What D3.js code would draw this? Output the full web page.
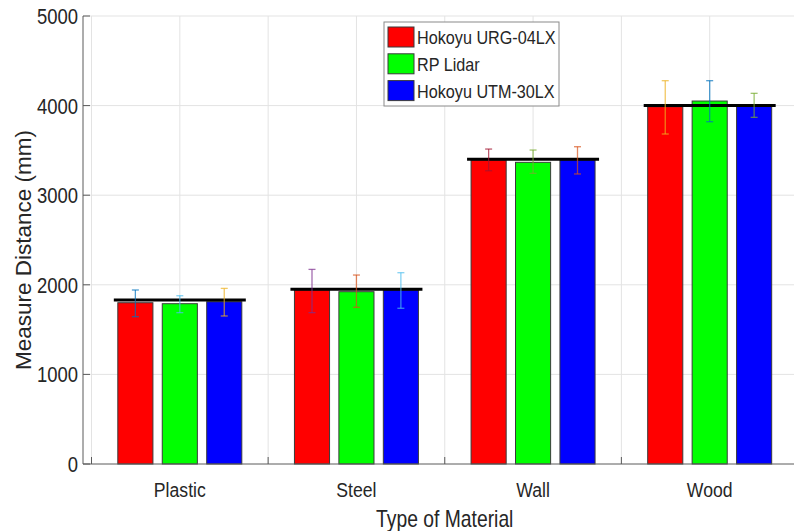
<!DOCTYPE html>
<html>
<head>
<meta charset="utf-8">
<script src="https://cdn.jsdelivr.net/npm/d3@7"></script>
<style>
body{margin:0;background:#fff}
text{font-family:Arial,"Liberation Sans",sans-serif;fill:#262626}
</style>
</head>
<body>
<svg id="chart" width="794" height="531"></svg>
<script>
// data
const materials = ['Plastic', 'Steel', 'Wall', 'Wood'];
const sensors = ['Hokoyu URG-04LX', 'RP Lidar', 'Hokoyu UTM-30LX'];
const trueDistance = [1830, 1950, 3400, 4000];
const urgMean = [1800, 1942, 3393, 3988];
const rpMean = [1789, 1923, 3367, 4051];
const utmMean = [1811, 1942, 3393, 3999];
const urgLow = [1644, 1689, 3273, 3683];
const urgHigh = [1942, 2172, 3515, 4278];
const rpLow = [1689, 1749, 3244, 3820];
const rpHigh = [1878, 2109, 3504, 4278];
const utmLow = [1652, 1738, 3237, 3869];
const utmHigh = [1960, 2135, 3541, 4137];
const yTicks = [0, 1000, 2000, 3000, 4000, 5000];

const barColors = ['#ff0000', '#00ff00', '#0000ff'];
// error bar colours differ for every bar in the original
const errColors = [
    ['#0072BD', '#4DBEEE', '#EDB120'],
    ['#7E2F8E', '#D95319', '#4DBEEE'],
    ['#A2142F', '#77AC30', '#D95319'],
    ['#EDB120', '#0072BD', '#77AC30']
];

const means = [urgMean, rpMean, utmMean];
const lows = [urgLow, rpLow, utmLow];
const highs = [urgHigh, rpHigh, utmHigh];

const svg = d3.select('#chart');
const axisX = 83, plotTop = 16, plotBottom = 464, plotRight = 798;
const sx = 0.84; // the figure text looks horizontally squeezed

let x0 = d3.scaleBand().domain(materials).range([91.5, plotRight]);
let bw = x0.bandwidth();
let x1 = d3.scaleBand().domain(sensors).range([bw * 0.149, bw * 0.851]).paddingInner(0.21);
let y = d3.scaleLinear().domain([0, 5000]).range([plotBottom, plotTop]);

//grid
let grid = svg.append('g').attr('stroke', '#e3e3e3').attr('stroke-width', 1);
grid.selectAll('.hg').data(yTicks.filter(d => d > 0)).enter().append('line')
    .attr('x1', axisX).attr('x2', plotRight)
    .attr('y1', d => y(d)).attr('y2', d => y(d));
let vLines = [];
materials.forEach(m => { vLines.push(x0(m)); vLines.push(x0(m) + bw / 2); });
grid.selectAll('.vg').data(vLines).enter().append('line')
    .attr('x1', d => d).attr('x2', d => d)
    .attr('y1', plotTop).attr('y2', plotBottom);

//bars
let rows = [];
materials.forEach((m, gi) => {
    sensors.forEach((s, si) => {
        rows.push({m, s, gi, si, val: means[si][gi], lo: lows[si][gi], hi: highs[si][gi]});
    });
});
svg.append('g').selectAll('rect').data(rows).enter().append('rect')
    .attr('x', d => x0(d.m) + x1(d.s))
    .attr('y', d => y(d.val))
    .attr('width', x1.bandwidth())
    .attr('height', d => plotBottom - y(d.val))
    .attr('fill', d => barColors[d.si])
    .attr('stroke', '#3a3a3a').attr('stroke-width', 1);

//true distance lines
svg.append('g').selectAll('line').data(materials).enter().append('line')
    .attr('x1', m => x0(m) + x1(sensors[0]) - 4)
    .attr('x2', m => x0(m) + x1(sensors[2]) + x1.bandwidth() + 4)
    .attr('y1', (m, i) => y(trueDistance[i]))
    .attr('y2', (m, i) => y(trueDistance[i]))
    .attr('stroke', '#000').attr('stroke-width', 3);

//error bars
let eb = svg.append('g').selectAll('g').data(rows).enter().append('g')
    .attr('stroke', d => errColors[d.gi][d.si])
    .attr('stroke-opacity', 0.7)
    .attr('stroke-width', 1.3);
let cx = d => x0(d.m) + x1(d.s) + x1.bandwidth() / 2;
eb.append('line').attr('x1', cx).attr('x2', cx).attr('y1', d => y(d.lo)).attr('y2', d => y(d.hi));
eb.append('line').attr('x1', d => cx(d) - 3.5).attr('x2', d => cx(d) + 3.5).attr('y1', d => y(d.lo)).attr('y2', d => y(d.lo));
eb.append('line').attr('x1', d => cx(d) - 3.5).attr('x2', d => cx(d) + 3.5).attr('y1', d => y(d.hi)).attr('y2', d => y(d.hi));

//axes
let axes = svg.append('g').attr('stroke', '#5a5a5a').attr('stroke-width', 1);
axes.append('line').attr('x1', axisX).attr('x2', axisX).attr('y1', plotTop).attr('y2', plotBottom);
axes.append('line').attr('x1', axisX).attr('x2', plotRight).attr('y1', plotBottom).attr('y2', plotBottom);
axes.selectAll('.yt').data(yTicks).enter().append('line')
    .attr('x1', axisX).attr('x2', axisX + 7)
    .attr('y1', d => y(d)).attr('y2', d => y(d));
axes.selectAll('.xt').data(materials.concat(['end'])).enter().append('line')
    .attr('x1', (d, i) => x0.range()[0] + i * bw).attr('x2', (d, i) => x0.range()[0] + i * bw)
    .attr('y1', plotBottom).attr('y2', plotBottom - 7);

svg.selectAll('.ylab').data(yTicks).enter().append('text')
    .attr('transform', d => `translate(${axisX - 5},${y(d) + 8}) scale(${sx},1)`)
    .attr('text-anchor', 'end').attr('font-size', 22)
    .text(d => d);
svg.selectAll('.xlab').data(materials).enter().append('text')
    .attr('transform', m => `translate(${x0(m) + bw / 2},${plotBottom + 33}) scale(${sx},1)`)
    .attr('text-anchor', 'middle').attr('font-size', 21)
    .text(m => m);
svg.append('text')
    .attr('transform', `translate(${(x0.range()[0] + plotRight) / 2},${527}) scale(${sx},1)`)
    .attr('text-anchor', 'middle').attr('font-size', 23)
    .text('Type of Material');
svg.append('text')
    .attr('transform', `translate(31,${(plotTop + plotBottom) / 2 + 10}) rotate(-90)`)
    .attr('text-anchor', 'middle').attr('font-size', 22.5)
    .text('Measure Distance (mm)');

//legend
let lg = svg.append('g').attr('transform', 'translate(384,22)');
lg.append('rect').attr('width', 175).attr('height', 84)
    .attr('fill', '#fff').attr('stroke', '#8a8a8a').attr('stroke-width', 1);
let li = lg.selectAll('.li').data(sensors).enter().append('g')
    .attr('transform', (d, i) => `translate(4,${5 + i * 26.8})`);
li.append('rect').attr('width', 26).attr('height', 20)
    .attr('fill', (d, i) => barColors[i]).attr('stroke', '#3a3a3a');
li.append('text').attr('transform', `translate(29,17) scale(0.9,1)`)
    .attr('font-size', 18).text(d => d);
</script>
</body>
</html>
